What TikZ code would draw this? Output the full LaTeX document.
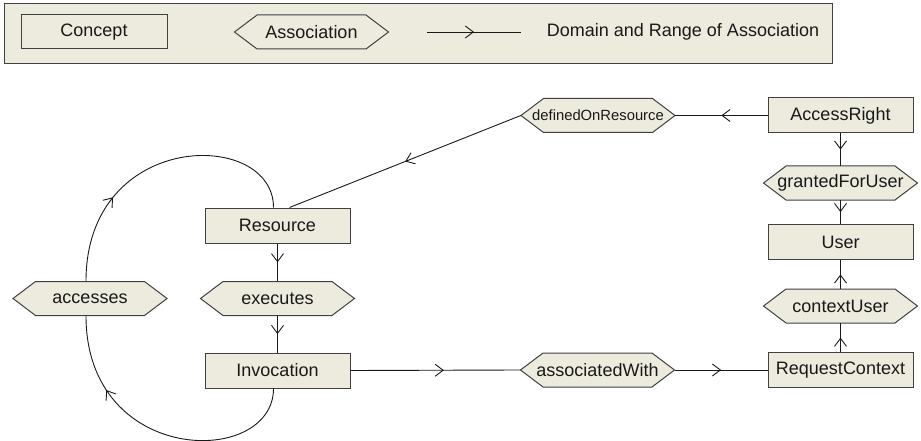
\documentclass[tikz,border=0pt]{standalone}
\usepackage{fontspec}
\setmainfont{Liberation Sans}
\usetikzlibrary{arrows.meta,decorations.markings}
\definecolor{boxfill}{RGB}{236,235,222}
\definecolor{boxline}{RGB}{64,64,64}
\definecolor{txt}{RGB}{25,25,25}
\definecolor{conncol}{RGB}{25,25,25}
\tikzset{
  every node/.style={font=\fontsize{18}{21}\selectfont, text=txt},
  concept/.style={draw=boxline, fill=boxfill, line width=1pt, minimum width=145pt, minimum height=35pt, inner sep=0pt},
  hexbox/.style={minimum width=154pt, minimum height=34pt, inner sep=0pt},
  hexshape/.style={draw=boxline, fill=boxfill, line width=1pt, line join=miter},
  conn/.style={draw=conncol, line width=0.9pt},
  midarrow/.style={postaction={decorate,decoration={markings,mark=at position #1 with {\arrow{Straight Barb[length=8pt,width=12pt,line width=0.9pt]}}}}},
  midarrow/.default=0.5
}
% name, x, y, text
\newcommand\hexat[4]{%
  \path[hexshape] (#2-77,#3) -- (#2-54.5,#3-17) -- (#2+54.5,#3-17) -- (#2+77,#3) -- (#2+54.5,#3+17) -- (#2-54.5,#3+17) -- cycle;
  \node[hexbox] (#1) at (#2,#3) {#4};}
\begin{document}
\begin{tikzpicture}[x=1pt,y=-1pt]
\useasboundingbox (0,0) rectangle (921,441);
% legend
\draw[draw=boxline, fill=boxfill, line width=1pt] (4,4) rectangle (832,64);
\node[concept, minimum width=146pt, minimum height=34pt] (lconcept) at (94,32) {Concept};
\hexat{lassoc}{311.5}{32}{Association}
\coordinate (la) at (427,32);
\coordinate (lb) at (521,32);
\draw[conn, midarrow] (la) -- (lb);
\node (ltext) at (683,32) {Domain and Range of Association};
% concepts
\node[concept] (ar) at (840.5,115.5) {AccessRight};
\node[concept] (user) at (840.5,242) {User};
\node[concept] (rc) at (840.5,370) {RequestContext};
\node[concept] (res) at (277.5,225.5) {Resource};
\node[concept] (inv) at (277.5,370.5) {Invocation};
% associations
\hexat{dor}{598}{115.5}{\fontsize{14.8}{17}\selectfont definedOnResource}
\hexat{gfu}{840.5}{183}{grantedForUser}
\hexat{cu}{840.5}{306}{contextUser}
\hexat{aw}{597.5}{370}{associatedWith}
\hexat{ex}{277.5}{298.5}{executes}
\hexat{acc}{90}{298.5}{accesses}
% connectors
\draw[conn, midarrow] (ar.west) -- (dor.east);
\draw[conn, midarrow] (dor.west) -- ([xshift=12pt]res.north);
\draw[conn, midarrow] (ar.south) -- (gfu.north);
\draw[conn, midarrow] (gfu.south) -- (user.north);
\draw[conn, midarrow] (rc.north) -- (cu.south);
\draw[conn, midarrow] (cu.north) -- (user.south);
\draw[conn, midarrow=0.55] (inv.east) -- (aw.west);
\draw[conn, midarrow] (aw.east) -- (rc.west);
\draw[conn, midarrow] (res.south) -- (ex.north);
\draw[conn, midarrow] (ex.south) -- (inv.north);
\draw[conn, midarrow=0.73] ([xshift=-4pt]inv.south) .. controls +(0,79) and +(0,151) .. ([xshift=-4pt]acc.south);
\draw[conn, midarrow=0.31] ([xshift=-4pt]acc.north) .. controls +(0,-152) and +(0,-79) .. ([xshift=-4pt]res.north);
\end{tikzpicture}
\end{document}
